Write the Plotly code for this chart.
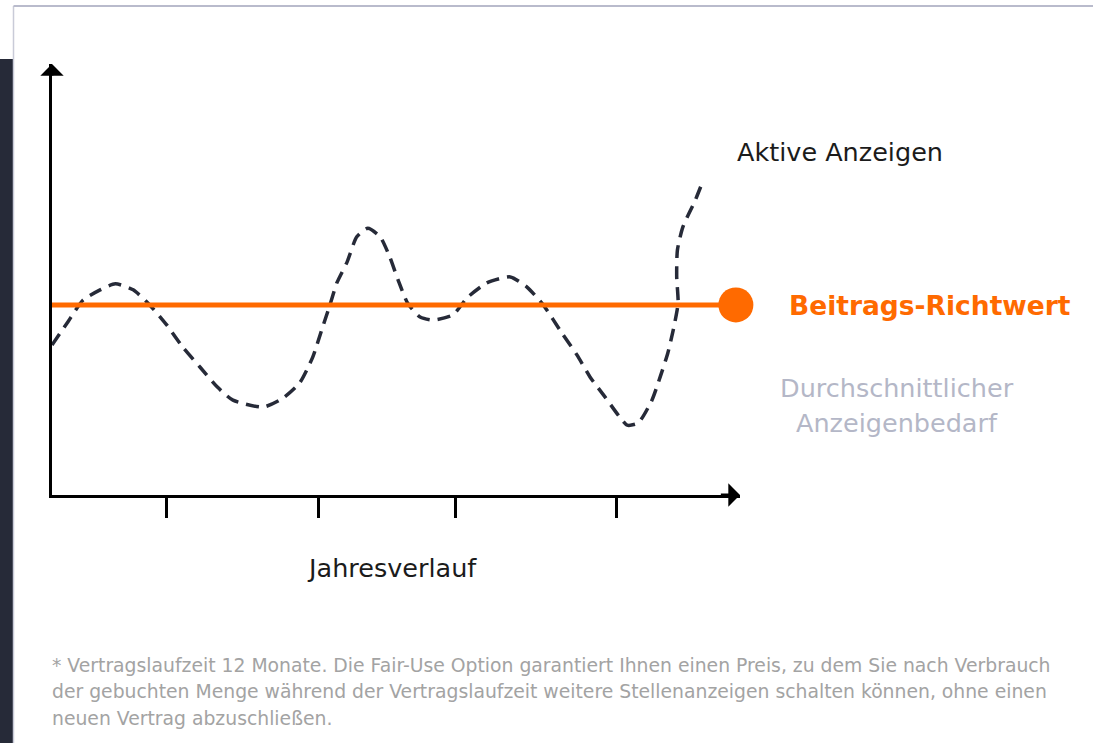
import plotly.graph_objects as go

# ---------------- data ----------------
curve_x = [0, 2.2, 4.5, 7.0, 9.2, 11.8, 14.2, 16.7, 19.0, 21.5, 24.0, 26.3, 30.7, 33.6,
           36.0, 37.9, 39.2, 40.4, 41.4, 42.9, 44.3, 45.9, 47.7, 49.1, 50.3, 51.7, 53.5,
           55.4, 58.3, 60.3, 63.2, 66.6, 69.0, 71.4, 74.1, 76.3, 78.2, 80.4, 82.6, 83.6,
           85.2, 87.2, 88.4, 89.5, 90.3, 91.0, 90.8, 90.9, 91.7, 93.5, 94.5]
curve_y = [34.8, 39.9, 45.2, 47.6, 49.0, 47.6, 44.1, 39.4, 34.3, 29.7, 25.1, 22.0, 20.4, 22.5,
           26.0, 32.0, 38.3, 44.1, 49.2, 54.1, 59.9, 61.9, 59.9, 55.2, 49.9, 44.5, 41.3,
           40.6, 41.8, 45.7, 49.2, 50.6, 48.3, 44.1, 37.6, 32.5, 27.4, 22.7, 17.9, 16.2,
           16.7, 22.0, 27.4, 32.9, 38.3, 44.5, 50.6, 56.8, 62.2, 68.4, 72.4]
richtwert_x = [0, 99.4]
richtwert_y = [44.1, 44.1]
tick_positions = [16.7, 38.7, 58.7, 82.0]

label_curve = "Aktive Anzeigen"
label_richtwert = "Beitrags-Richtwert"
label_avg = ["Durchschnittlicher", "Anzeigenbedarf"]
label_x = "Jahresverlauf"
footnote = [
    "* Vertragslaufzeit 12 Monate. Die Fair-Use Option garantiert Ihnen einen Preis, zu dem Sie nach Verbrauch",
    "der gebuchten Menge während der Vertragslaufzeit weitere Stellenanzeigen schalten können, ohne einen",
    "neuen Vertrag abzuschließen.",
]

# ---------------- layout geometry ----------------
W, H = 1093, 743
L, R, T, B = 52, 740, 64, 495  # plot area in pixels
X_MAX, Y_MAX = 100, 100


def pxx(px):
    return (px - L) / (R - L)


def pxy(py):
    return (B - py) / (B - T)


DARK = "#262a38"
ORANGE = "#ff6a00"
GREY_TXT = "#b4b7c7"
FOOT = "#a3a3a3"
FONT = "DejaVu Sans"

fig = go.Figure()

fig.add_trace(go.Scatter(
    x=curve_x, y=curve_y, mode="lines",
    line=dict(color=DARK, width=3.5, dash="13px,8px", shape="spline", smoothing=0.6),
    hoverinfo="skip", showlegend=False, cliponaxis=False))

fig.add_trace(go.Scatter(
    x=richtwert_x, y=richtwert_y, mode="lines",
    line=dict(color=ORANGE, width=5),
    hoverinfo="skip", showlegend=False, cliponaxis=False))

fig.add_trace(go.Scatter(
    x=richtwert_x[-1:], y=richtwert_y[-1:], mode="markers",
    marker=dict(color=ORANGE, size=35, line=dict(width=0)),
    hoverinfo="skip", showlegend=False, cliponaxis=False))

annotations = [
    # axis arrowheads
    dict(x=X_MAX, y=0, ax=X_MAX - 3, ay=0, xref="x", yref="y", axref="x", ayref="y",
         showarrow=True, arrowhead=1, arrowsize=1.3, arrowwidth=3, arrowcolor="black", text=""),
    dict(x=0, y=Y_MAX, ax=0, ay=Y_MAX - 3, xref="x", yref="y", axref="x", ayref="y",
         showarrow=True, arrowhead=1, arrowsize=1.3, arrowwidth=3, arrowcolor="black", text=""),
    dict(x=pxx(735), y=pxy(152), xref="paper", yref="paper", xanchor="left", yanchor="middle",
         text=label_curve, showarrow=False,
         font=dict(family=FONT, size=25.5, color="#1b1b1b")),
    dict(x=pxx(787), y=pxy(305), xref="paper", yref="paper", xanchor="left", yanchor="middle",
         text="<b>" + label_richtwert + "</b>", showarrow=False,
         font=dict(family=FONT, size=26.5, color=ORANGE)),
    dict(x=pxx(897), y=pxy(388), xref="paper", yref="paper", xanchor="center", yanchor="middle",
         text=label_avg[0], showarrow=False,
         font=dict(family=FONT, size=25.5, color=GREY_TXT)),
    dict(x=pxx(897), y=pxy(423), xref="paper", yref="paper", xanchor="center", yanchor="middle",
         text=label_avg[1], showarrow=False,
         font=dict(family=FONT, size=25.5, color=GREY_TXT)),
    dict(x=pxx(392), y=pxy(568), xref="paper", yref="paper", xanchor="center", yanchor="middle",
         text=label_x, showarrow=False,
         font=dict(family=FONT, size=25.5, color="#1b1b1b")),
]
for i, line in enumerate(footnote):
    annotations.append(dict(
        x=pxx(50), y=pxy(665 + i * 26.5), xref="paper", yref="paper",
        xanchor="left", yanchor="middle", text=line, showarrow=False,
        font=dict(family=FONT, size=18.8, color=FOOT)))

shapes = [
    # left dark page bar
    dict(type="rect", xref="paper", yref="paper", x0=pxx(0), x1=pxx(13), y0=pxy(743), y1=pxy(59),
         fillcolor=DARK, line=dict(width=0), layer="below"),
    # card border lines
    dict(type="line", xref="paper", yref="paper", x0=pxx(13.5), x1=pxx(13.5), y0=pxy(743), y1=pxy(6),
         line=dict(color="#c9cbd8", width=1.5)),
    dict(type="line", xref="paper", yref="paper", x0=pxx(13.5), x1=pxx(1093), y0=pxy(6), y1=pxy(6),
         line=dict(color="#b9bbcc", width=2)),
]

fig.update_layout(
    width=W, height=H,
    margin=dict(l=L, r=W - R, t=T, b=H - B, pad=0),
    paper_bgcolor="white", plot_bgcolor="white",
    showlegend=False,
    annotations=annotations, shapes=shapes,
    xaxis=dict(range=[0, X_MAX], showgrid=False, zeroline=False, showline=True,
               linecolor="black", linewidth=3, ticks="outside", tickvals=tick_positions,
               ticklen=20, tickwidth=2.5, tickcolor="black", showticklabels=False,
               fixedrange=True),
    yaxis=dict(range=[0, Y_MAX], showgrid=False, zeroline=False, showline=True,
               linecolor="black", linewidth=3, ticks="", showticklabels=False,
               fixedrange=True),
)

fig.write_html("out.html", config={"displayModeBar": False},
               post_script="document.body.style.margin='0px';document.body.style.padding='0px';")
